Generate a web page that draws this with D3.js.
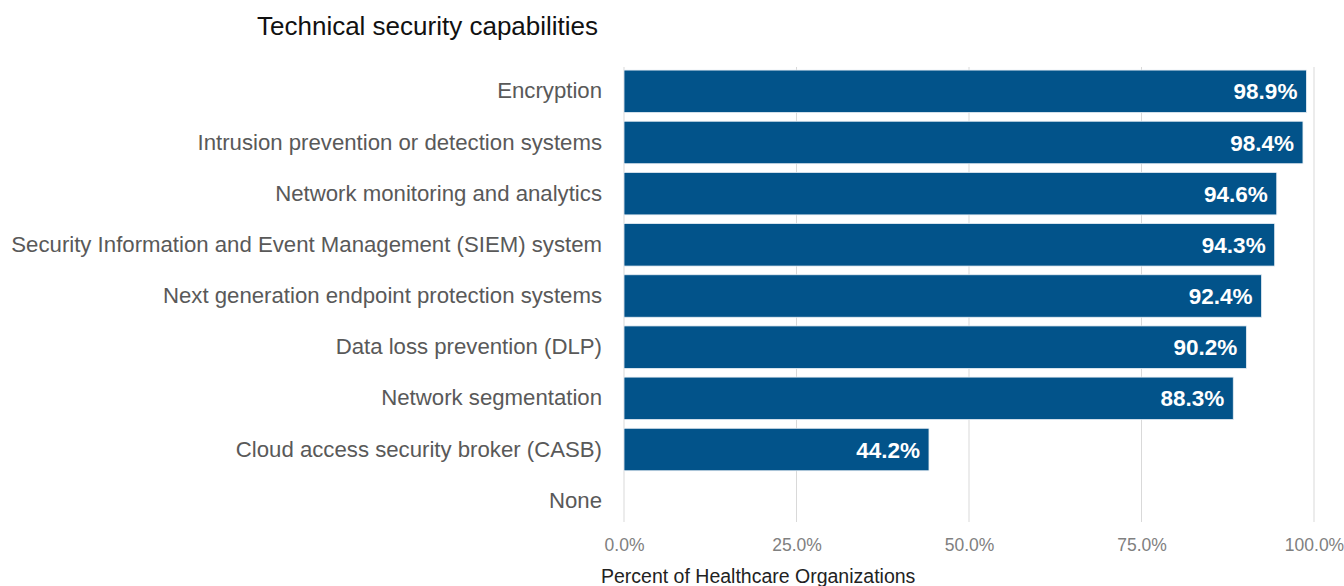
<!DOCTYPE html>
<html>
<head>
<meta charset="utf-8">
<script src="https://cdn.jsdelivr.net/npm/d3@7"></script>
<style>
  html, body { margin: 0; padding: 0; background: #fff; }
  svg { display: block; }
</style>
</head>
<body>
<svg id="chart" width="1344" height="586"></svg>
<script>
// Technical security capabilities reported by healthcare organizations
const categories = [
  "Encryption",
  "Intrusion prevention or detection systems",
  "Network monitoring and analytics",
  "Security Information and Event Management (SIEM) system",
  "Next generation endpoint protection systems",
  "Data loss prevention (DLP)",
  "Network segmentation",
  "Cloud access security broker (CASB)",
  "None"
];
const percentages = [98.9, 98.4, 94.6, 94.3, 92.4, 90.2, 88.3, 44.2, 0];
const xTicks = [0, 25, 50, 75, 100];
const chartTitle = "Technical security capabilities";
const xAxisTitle = "Percent of Healthcare Organizations";

const fontFamily = "'Liberation Sans', Arial, sans-serif";
const barColor = "#02538a";

const svg = d3.select("#chart");
const margin = { left: 624, top: 67 };

const x = d3.scaleLinear().domain([0, 100]).range([margin.left, 1314]);
const y = d3.scaleBand().domain(categories).range([margin.top, 525]).paddingInner(0.17).paddingOuter(0.06);

// vertical gridlines
svg.append("g")
  .selectAll("line")
  .data(xTicks)
  .join("line")
  .attr("x1", d => x(d)).attr("x2", d => x(d))
  .attr("y1", margin.top).attr("y2", 522)
  .attr("stroke", "#d9d9d9").attr("stroke-width", 1);

// bars
svg.append("g")
  .selectAll("rect")
  .data(percentages)
  .join("rect")
  .attr("x", x(0))
  .attr("y", (d, i) => y(categories[i]))
  .attr("width", d => x(d) - x(0))
  .attr("height", y.bandwidth())
  .attr("fill", barColor)
  .attr("stroke", d => d > 0 ? "#e8eef4" : "none")
  .attr("stroke-width", 0.8);

// value labels inside bar ends
svg.append("g")
  .selectAll("text")
  .data(percentages.filter(d => d > 0))
  .join("text")
  .attr("x", d => x(d) - 9)
  .attr("y", (d, i) => y(categories[i]) + y.bandwidth() / 2)
  .attr("dy", "0.36em")
  .attr("text-anchor", "end")
  .attr("fill", "#fff")
  .attr("font-family", fontFamily)
  .attr("font-weight", "bold")
  .attr("font-size", 22.5)
  .text(d => d.toFixed(1) + "%");

// category axis
const yAxis = d3.axisLeft(y).tickSize(0).tickPadding(22);
const yg = svg.append("g").attr("transform", `translate(${margin.left},0)`).call(yAxis);
yg.select(".domain").remove();
yg.selectAll("text")
  .attr("font-family", fontFamily)
  .attr("font-size", 22.2)
  .attr("fill", "#595959");

// percent axis
const xAxis = d3.axisBottom(x).tickValues(xTicks).tickSize(0).tickPadding(12)
  .tickFormat(d => d.toFixed(1) + "%");
const xg = svg.append("g").attr("transform", `translate(0,527)`).call(xAxis);
xg.select(".domain").remove();
xg.selectAll("text")
  .attr("font-family", fontFamily)
  .attr("font-size", 17.5)
  .attr("fill", "#808080");

// titles
svg.append("text")
  .attr("x", 257).attr("y", 35)
  .attr("font-family", fontFamily)
  .attr("font-size", 26)
  .attr("fill", "#111")
  .text(chartTitle);

svg.append("text")
  .attr("x", 601).attr("y", 583)
  .attr("font-family", fontFamily)
  .attr("font-size", 19.5)
  .attr("fill", "#222")
  .text(xAxisTitle);
</script>
</body>
</html>
